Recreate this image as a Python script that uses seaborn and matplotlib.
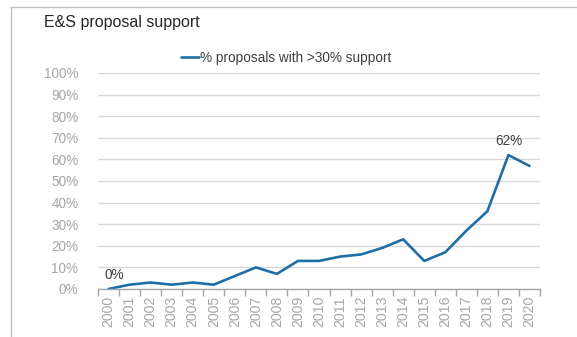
import matplotlib
matplotlib.use("Agg")
import matplotlib.pyplot as plt
from matplotlib.lines import Line2D
import seaborn as sns
import pandas as pd

years = [str(y) for y in range(2000, 2021)]
share = [0.00, 0.02, 0.03, 0.02, 0.03, 0.02, 0.06, 0.10, 0.07, 0.13, 0.13,
         0.15, 0.16, 0.19, 0.23, 0.13, 0.17, 0.27, 0.36, 0.62, 0.57]
series_name = "% proposals with >30% support"
yticks = [i / 10 for i in range(11)]
ytick_labels = [f"{i * 10}%" for i in range(11)]
labelled = {"2000": "0%", "2019": "62%"}

df = pd.DataFrame({"year": years, "share": share})
df["pos"] = range(len(df))

sns.set_theme(style="white")
plt.rcParams["font.family"] = ["Liberation Sans", "DejaVu Sans"]

fig = plt.figure(figsize=(5.77, 3.37), dpi=100)
ax = fig.add_axes([98 / 577, 1 - 289 / 337, 442 / 577, 216 / 337])

line_color = "#1f6fa6"
sns.lineplot(data=df, x="pos", y="share", ax=ax, color=line_color,
             linewidth=1.9, label=series_name)

ax.set_xlim(-0.5, len(years) - 0.5)
ax.set_ylim(0, 1.0)
ax.set_yticks(yticks)
ax.set_yticklabels(ytick_labels)
ax.set_xticks(range(len(years)))
ax.set_xticklabels(years, rotation=90)
ax.set_xticks([i - 0.5 for i in range(len(years) + 1)], minor=True)
ax.set_xlabel("")
ax.set_ylabel("")

ax.grid(True, axis="y", color="#d9d9d9", linewidth=1.0)
ax.grid(False, axis="x")
ax.set_axisbelow(True)
for s in ["top", "right", "left"]:
    ax.spines[s].set_visible(False)
ax.spines["bottom"].set_color("#a6a6a6")
ax.spines["bottom"].set_linewidth(1.0)

ax.tick_params(axis="y", which="both", length=0, pad=14, labelsize=9.8,
               labelcolor="#a6a6a6")
ax.tick_params(axis="x", which="major", length=0, pad=5, labelsize=10.2,
               labelcolor="#a6a6a6")
ax.tick_params(axis="x", which="minor", bottom=True, length=5, width=1,
               color="#a6a6a6")

offsets = {"2000": (4, 5), "2019": (0, 5)}
for i, (yr, val) in enumerate(zip(years, share)):
    if yr in labelled:
        ax.annotate(labelled[yr], (i, val), xytext=offsets[yr],
                    textcoords="offset points", ha="center", va="bottom",
                    fontsize=9.8, color="#404040")

leg = ax.legend(loc="lower center", bbox_to_anchor=(0.426, 1.014), frameon=False,
                fontsize=9.8, handlelength=1.3, handletextpad=0.1,
                borderaxespad=0)
for t in leg.get_texts():
    t.set_color("#404040")

fig.text(44 / 577, 1 - 22 / 337, "E&S proposal support", fontsize=11.5,
         color="#262626", va="center", ha="left")

# frame around the picture (left and top edges only)
fig.add_artist(Line2D([11 / 577, 11 / 577], [0, 1 - 7 / 337],
                      transform=fig.transFigure, color="#bfbfbf", linewidth=1.0))
fig.add_artist(Line2D([11 / 577, 1], [1 - 7 / 337, 1 - 7 / 337],
                      transform=fig.transFigure, color="#bfbfbf", linewidth=1.0))

fig.savefig("out.png", dpi=100, facecolor="white")
